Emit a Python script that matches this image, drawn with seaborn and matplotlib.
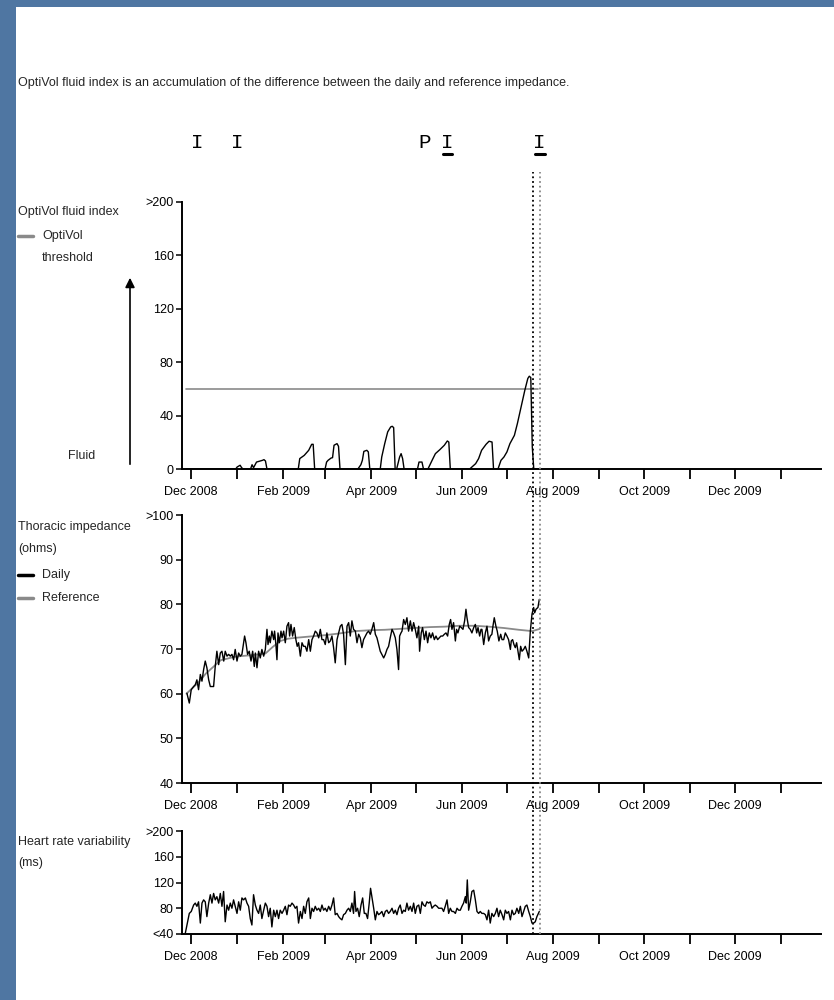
import numpy as np
import pandas as pd
import matplotlib
matplotlib.use("Agg")
import matplotlib.pyplot as plt
import matplotlib.dates as mdates
from matplotlib import font_manager
from matplotlib.lines import Line2D
from matplotlib.patches import Rectangle, FancyArrowPatch
from matplotlib.ticker import FuncFormatter
from matplotlib.transforms import blended_transform_factory
import seaborn as sns

# day 0 = 1 Dec 2008
START = pd.Timestamp("2008-12-01")
X_RANGE = [-6.0, 422.7]

fluid_day = [-3, 30, 31, 33, 34, 35, 40, 41, 42, 44, 48, 49, 50, 51,
             72, 73, 76, 79, 81, 82, 83,
             90, 91, 92, 94, 95, 96, 98, 99, 100,
             112, 114, 115, 116, 118, 119, 120,
             127, 128, 130, 132, 134, 135, 136, 137,
             138, 140, 141, 142, 143,
             152, 153, 155, 156,
             159, 162, 164, 167, 170, 172, 173, 174,
             187, 191, 193, 195, 198, 200, 202, 203,
             206, 208, 210, 212, 214, 217, 219, 221, 222, 224, 226, 227, 228, 229, 230, 234]
fluid_index = [0, 0, 1.5, 2.8, 1, 0, 0, 3.2, 1, 5.2, 6.5, 7, 6, 0,
               0, 7.8, 10.2, 14, 18.5, 18.5, 0,
               0, 5.2, 6.5, 8.2, 8.5, 17.8, 19, 17, 0,
               0, 3.2, 6.5, 13.2, 14, 12.8, 0,
               0, 9, 19, 27.8, 31.5, 32, 31, 0,
               0, 9, 11.5, 7.8, 0,
               0, 5.2, 5.2, 0,
               0, 7, 11.5, 14.5, 17.8, 21, 20.2, 0,
               0, 4, 7.8, 14, 18.5, 20.8, 20.2, 0,
               0, 6.5, 9, 12.8, 19, 25.2, 34, 44, 49, 59, 67.8, 69.5, 68.5, 16.5, 0, 0]

threshold_day = [-3, 233]
threshold_value = [60, 60]

imp_day = [-2.7, -1.1, 0.2, 1.8, 2.9, 4.0, 5.1, 6.3, 7.4, 8.5,
           9.6, 10.7, 11.9, 13.0, 15.2, 16.3, 17.4, 18.6, 19.7, 20.8,
           22.0, 23.0, 24.2, 25.3, 26.4, 27.5, 28.6, 29.7, 30.9, 32.0,
           33.1, 34.2, 35.3, 36.0, 36.9, 38.0, 39.1, 40.3, 41.4, 42.5,
           43.2, 44.3, 45.4, 46.5, 47.6, 48.8, 49.9, 51.0, 51.7, 52.6,
           53.2, 54.3, 55.5, 56.1, 57.0, 57.7, 58.4, 59.3, 60.4, 61.1,
           62.2, 63.3, 64.4, 65.5, 66.2, 67.1, 68.2, 69.3, 70.4, 71.3,
           72.2, 73.4, 74.5, 75.6, 76.7, 77.8, 79.0, 80.1, 81.2, 82.3,
           83.4, 84.5, 85.7, 86.8, 87.9, 89.0, 90.1, 91.2, 92.4, 93.5,
           94.6, 95.7, 96.8, 98.0, 99.1, 100.2, 101.3, 102.4, 103.6, 104.7,
           105.8, 106.9, 108.0, 109.1, 110.3, 111.4, 112.5, 113.6, 114.7, 115.8,
           117.0, 118.1, 119.2, 120.3, 121.4, 122.6, 123.7, 124.8, 125.9, 127.0,
           128.1, 129.3, 130.4, 131.5, 132.6, 133.7, 134.9, 136.0, 137.1, 138.2,
           139.3, 140.0, 140.9, 141.6, 142.7, 143.8, 144.9, 146.0, 147.2, 148.3,
           149.4, 150.5, 151.6, 152.8, 153.4, 154.5, 155.4, 156.6, 157.7, 158.8,
           159.9, 161.0, 162.1, 163.3, 164.4, 165.5, 166.6, 167.7, 168.9, 170.0,
           171.1, 172.2, 173.3, 174.2, 175.1, 176.2, 177.4, 178.2, 179.1, 180.3,
           181.4, 182.5, 183.6, 184.5, 185.2, 186.3, 187.4, 188.5, 189.7, 190.8,
           191.7, 192.6, 193.7, 194.6, 195.2, 196.4, 197.5, 198.6, 199.7, 200.8,
           201.9, 202.6, 203.5, 204.6, 205.5, 206.6, 207.8, 208.7, 209.8, 210.9,
           212.0, 213.1, 214.3, 214.9, 215.8, 216.7, 217.6, 218.5, 219.4, 220.3,
           221.2, 222.1, 223.2, 224.3, 225.4, 226.6, 227.7, 228.8, 229.9, 230.6,
           231.5, 232.8, 233.7]
imp_daily = [60.1, 57.9, 60.9, 61.6, 62.0, 63.1, 60.9, 64.3, 62.8, 65.4,
             67.3, 65.8, 63.1, 61.6, 61.6, 66.1, 69.5, 66.5, 69.1, 69.5,
             67.3, 69.5, 68.4, 68.8, 68.4, 68.8, 67.6, 69.9, 67.3, 69.1,
             68.4, 68.8, 71.4, 72.9, 71.4, 68.8, 69.5, 67.3, 69.5, 66.1,
             69.1, 65.8, 69.5, 68.0, 69.9, 68.4, 69.9, 74.4, 71.0, 72.9,
             71.4, 74.0, 72.1, 74.0, 71.0, 67.6, 73.6, 71.4, 74.0, 72.5,
             74.0, 71.4, 75.1, 75.9, 72.9, 75.5, 72.9, 74.8, 72.1, 70.6,
             71.4, 68.4, 71.4, 70.6, 70.6, 69.5, 72.1, 69.5, 72.1, 72.9,
             74.0, 73.6, 72.5, 74.4, 72.1, 72.1, 71.0, 73.6, 71.4, 71.8,
             72.9, 70.3, 66.9, 72.1, 73.6, 75.1, 75.5, 73.3, 66.5, 75.1,
             75.9, 72.9, 76.3, 74.4, 74.0, 71.4, 73.3, 72.5, 70.3, 72.1,
             72.9, 73.6, 74.0, 73.3, 74.4, 75.9, 73.3, 72.5, 71.0, 69.5,
             68.8, 68.0, 68.8, 69.9, 70.6, 72.5, 74.4, 73.6, 72.5, 69.9,
             65.4, 72.9, 73.6, 74.0, 76.6, 75.5, 77.0, 74.0, 76.3, 74.0,
             75.9, 74.4, 72.5, 75.1, 69.5, 73.6, 74.8, 72.1, 74.0, 71.4,
             73.6, 72.5, 73.6, 72.1, 72.9, 72.1, 72.5, 72.9, 72.9, 73.3,
             73.6, 72.9, 75.5, 76.6, 74.4, 75.9, 71.8, 74.4, 73.6, 75.1,
             74.8, 74.4, 76.3, 78.9, 77.0, 74.8, 74.4, 73.6, 74.8, 75.5,
             73.6, 74.8, 72.9, 74.4, 74.4, 71.0, 73.6, 75.1, 71.8, 72.9,
             73.3, 75.1, 77.0, 75.1, 74.0, 71.8, 73.3, 72.1, 72.1, 73.6,
             72.9, 72.1, 69.9, 71.8, 72.1, 71.0, 70.3, 71.4, 69.5, 67.6,
             70.6, 69.5, 69.9, 70.6, 69.5, 68.0, 74.0, 77.8, 79.3, 78.1,
             78.9, 79.3, 81.1]

ref_day = [-3, 5, 10, 15, 20, 30, 40, 50, 55, 60, 65, 70, 80, 90, 100,
           110, 120, 130, 140, 150, 160, 170, 180, 190, 200, 210, 220, 229, 234]
imp_reference = [60.0, 62.5, 64.5, 66.0, 67.5, 68.3, 68.6, 69.0, 70.5, 71.8, 72.3, 72.5, 72.8, 73.1, 73.5,
                 74.0, 74.2, 74.3, 74.5, 74.7, 74.9, 75.0, 75.2, 75.2, 75.0, 74.7, 74.3, 74.0, 74.5]

hrv_day = [-3.8, -2.0, -1.1, 0.2, 1.8, 2.9, 4.0, 5.1, 6.3, 7.4,
           8.5, 9.6, 10.7, 11.9, 13.0, 14.1, 15.2, 16.3, 17.4, 18.6,
           19.7, 20.8, 21.9, 23.0, 24.2, 25.3, 26.4, 27.5, 28.6, 29.7,
           30.9, 32.0, 33.1, 34.2, 35.3, 36.5, 37.6, 38.7, 39.8, 40.9,
           42.0, 43.2, 44.3, 45.4, 46.5, 47.6, 48.8, 49.9, 51.0, 52.1,
           53.2, 54.3, 55.5, 56.6, 57.7, 58.8, 59.9, 61.1, 62.2, 63.3,
           64.4, 65.5, 66.6, 67.8, 68.9, 70.0, 71.1, 72.2, 73.4, 74.5,
           75.6, 76.7, 77.8, 79.0, 80.1, 81.2, 82.3, 83.4, 84.5, 85.7,
           86.8, 87.9, 89.0, 90.1, 91.2, 92.4, 93.5, 94.6, 95.7, 96.8,
           98.0, 99.1, 100.2, 101.3, 102.4, 103.6, 104.7, 105.8, 106.9, 108.0,
           109.1, 109.8, 110.7, 111.8, 112.9, 114.1, 115.2, 116.3, 117.4, 118.5,
           119.6, 120.5, 121.4, 122.6, 123.7, 124.8, 125.9, 127.0, 128.1, 129.3,
           130.4, 131.5, 132.6, 133.7, 134.9, 136.0, 137.1, 138.2, 139.3, 140.4,
           141.6, 142.7, 143.8, 144.9, 146.0, 147.2, 148.3, 149.4, 150.5, 151.6,
           152.8, 153.9, 155.0, 156.1, 157.2, 158.3, 159.5, 160.6, 161.7, 162.8,
           163.9, 165.1, 166.2, 167.3, 168.4, 169.5, 170.6, 171.8, 172.9, 174.0,
           175.1, 176.2, 177.4, 178.5, 179.6, 180.7, 181.8, 182.9, 184.1, 184.7,
           185.4, 186.3, 187.4, 188.5, 189.7, 190.8, 191.9, 193.0, 194.1, 195.2,
           196.4, 197.5, 198.6, 199.7, 200.8, 201.9, 203.1, 204.2, 205.3, 206.4,
           207.5, 208.7, 209.8, 210.9, 212.0, 213.1, 214.3, 215.4, 216.5, 217.6,
           218.7, 219.9, 221.0, 222.1, 223.2, 224.3, 225.4, 226.6, 227.7, 228.8,
           229.9, 231.0, 232.1, 233.7]
hrv_ms = [41, 62, 72, 75, 85, 88, 83, 90, 57, 88,
          93, 90, 67, 88, 101, 88, 103, 93, 98, 88,
          103, 83, 106, 59, 85, 77, 88, 80, 93, 83,
          72, 90, 77, 96, 93, 96, 88, 83, 64, 54,
          101, 85, 77, 72, 85, 64, 77, 88, 83, 67,
          80, 51, 77, 67, 77, 64, 77, 72, 77, 83,
          70, 85, 83, 88, 85, 80, 83, 57, 75, 64,
          83, 72, 90, 96, 64, 80, 75, 83, 77, 80,
          75, 85, 77, 80, 75, 83, 77, 85, 96, 70,
          72, 67, 64, 62, 70, 72, 77, 80, 75, 88,
          72, 106, 75, 80, 67, 85, 96, 72, 72, 64,
          88, 111, 98, 80, 62, 75, 70, 72, 75, 67,
          75, 77, 72, 75, 80, 72, 77, 70, 80, 85,
          72, 77, 75, 88, 77, 83, 75, 88, 72, 83,
          85, 72, 90, 85, 83, 90, 88, 90, 80, 83,
          85, 83, 80, 80, 80, 75, 83, 93, 72, 80,
          75, 75, 72, 80, 77, 77, 83, 88, 98, 88,
          124, 77, 90, 106, 108, 93, 75, 72, 75, 72,
          72, 70, 62, 77, 57, 72, 67, 72, 80, 67,
          77, 70, 62, 77, 72, 75, 62, 77, 70, 72,
          80, 72, 83, 67, 75, 83, 85, 75, 67, 57,
          57, 59, 67, 75]

# device events shown above the charts, and the two dotted markers
event_day = [4, 31, 157, 172, 234]
event_label = ["I", "I", "P", "I", "I"]
event_underlined = [False, False, False, True, True]
marker_day = [229.5, 234.2]
marker_color = ["black", "#888888"]

GRAY = "#8a8a8a"
BLUE = "#4f76a2"


def to_dates(days):
    return START + pd.to_timedelta(np.asarray(days, dtype=float), unit="D")


def month_label(value, pos):
    d = mdates.num2date(value)
    return d.strftime("%b %Y") if d.month % 2 == 0 else ""


sns.set_style("ticks")
installed = {f.name for f in font_manager.fontManager.ttflist}
NARROW = "Liberation Sans Narrow" in installed
base_font = "Liberation Sans Narrow" if NARROW else "Liberation Sans"
FS = 10.5 if NARROW else 9
plt.rcParams["font.family"] = [base_font, "DejaVu Sans"]

fig = plt.figure(figsize=(8.34, 10), dpi=100, facecolor=BLUE)
fig.add_artist(Rectangle((16 / 834, 0), 1, 0.993, transform=fig.transFigure,
                         facecolor="white", edgecolor="none", zorder=-5))

left, width = 182 / 834, 639 / 834
ax1 = fig.add_axes([left, 0.531, width, 0.267])
ax2 = fig.add_axes([left, 0.217, width, 0.268])
ax3 = fig.add_axes([left, 0.066, width, 0.103])

sns.lineplot(x=to_dates(threshold_day), y=threshold_value, ax=ax1, color=GRAY, lw=1.2)
sns.lineplot(x=to_dates(fluid_day), y=fluid_index, ax=ax1, color="black", lw=1.0)

sns.lineplot(x=to_dates(ref_day), y=imp_reference, ax=ax2, color=GRAY, lw=1.3)
sns.lineplot(x=to_dates(imp_day), y=imp_daily, ax=ax2, color="black", lw=1.0)

sns.lineplot(x=to_dates(hrv_day), y=hrv_ms, ax=ax3, color="black", lw=1.0)

panels = [
    (ax1, (0, 200), [0, 40, 80, 120, 160, 200], ["0", "40", "80", "120", "160", ">200"]),
    (ax2, (40, 100), [40, 50, 60, 70, 80, 90, 100], ["40", "50", "60", "70", "80", "90", ">100"]),
    (ax3, (40, 200), [40, 80, 120, 160, 200], ["<40", "80", "120", "160", ">200"]),
]
xlim = to_dates(X_RANGE)
for ax, ylim, ticks, labels in panels:
    ax.set_facecolor("none")
    ax.set_xlim(xlim[0], xlim[1])
    ax.set_ylim(*ylim)
    ax.set_yticks(ticks)
    ax.set_yticklabels(labels)
    ax.xaxis.set_major_locator(mdates.MonthLocator())
    ax.xaxis.set_major_formatter(FuncFormatter(month_label))
    sns.despine(ax=ax)
    for side in ("left", "bottom"):
        ax.spines[side].set_linewidth(1.4)
        ax.spines[side].set_color("black")
    ax.tick_params(axis="x", length=7, width=1.3, pad=5, labelsize=FS, colors="black")
    ax.tick_params(axis="y", length=4.5, width=1.1, pad=1.5, labelsize=FS, colors="black")
    ax.set_xlabel("")
    ax.set_ylabel("")

# dotted markers spanning all three panels
span = blended_transform_factory(ax3.transData, fig.transFigure)
for d, c in zip(mdates.date2num(to_dates(marker_day)), marker_color):
    fig.add_artist(Line2D([d, d], [0.066, 0.828], transform=span, color=c,
                          lw=1.3, linestyle=(0, (1, 1.6))))

# event letters above the charts
for d, lab, under in zip(mdates.date2num(to_dates(event_day)), event_label, event_underlined):
    fig.text(d, 0.857, lab, transform=span, family="Liberation Mono",
             fontsize=15, ha="center", va="center", color="black")
    if under:
        fig.add_artist(Line2D([d - 3.2, d + 3.2], [0.846, 0.846], transform=span,
                              color="black", lw=2.2))

fig.text(18 / 834, 0.917, "OptiVol fluid index is an accumulation of the difference "
         "between the daily and reference impedance.", fontsize=FS, va="center")

# left-hand legends
tx = 42 / 834
sw = [18 / 834, 33 / 834]
fig.text(sw[0], 0.788, "OptiVol fluid index", fontsize=FS, va="center")
fig.add_artist(Line2D(sw, [0.764, 0.764], color=GRAY, lw=2.5))
fig.text(tx, 0.764, "OptiVol", fontsize=FS, va="center")
fig.text(tx, 0.742, "threshold", fontsize=FS, va="center")
fig.text(82 / 834, 0.544, "Fluid", fontsize=FS, va="center", ha="center")
fig.add_artist(FancyArrowPatch((130 / 834, 0.533), (130 / 834, 0.725), transform=fig.transFigure,
                               arrowstyle="-|>", mutation_scale=14, color="black", lw=1.2))

fig.text(sw[0], 0.473, "Thoracic impedance", fontsize=FS, va="center")
fig.text(sw[0], 0.451, "(ohms)", fontsize=FS, va="center")
fig.add_artist(Line2D(sw, [0.425, 0.425], color="black", lw=2.5))
fig.text(tx, 0.425, "Daily", fontsize=FS, va="center")
fig.add_artist(Line2D(sw, [0.402, 0.402], color=GRAY, lw=2.5))
fig.text(tx, 0.402, "Reference", fontsize=FS, va="center")

fig.text(sw[0], 0.158, "Heart rate variability", fontsize=FS, va="center")
fig.text(sw[0], 0.137, "(ms)", fontsize=FS, va="center")

fig.savefig("out.png", dpi=100, facecolor=fig.get_facecolor())
